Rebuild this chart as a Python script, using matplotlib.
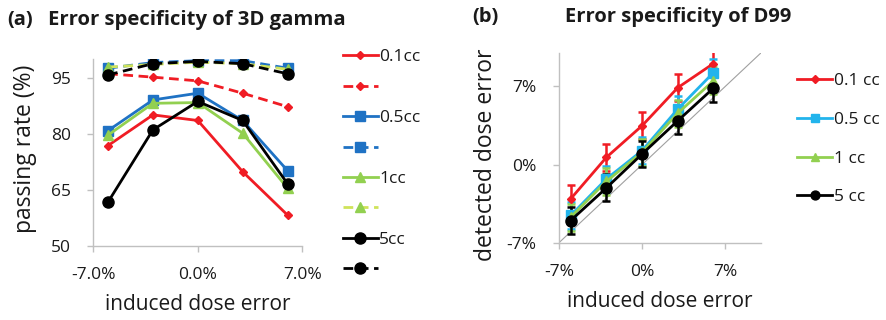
import matplotlib
matplotlib.use("Agg")
import matplotlib.pyplot as plt
from matplotlib.lines import Line2D

plt.rcParams['font.family'] = ['Open Sans', 'DejaVu Sans']

# ---- Panel (a) data ----
dose_err = [-6, -3, 0, 3, 6]
a_x_ticks = [-7, 0, 7]
a_x_ticklabels = ['-7.0%', '0.0%', '7.0%']
a_y_ticks = [50, 65, 80, 95]

a_01_solid = [76.9, 85.1, 83.6, 69.9, 58.3]
a_01_dash = [96.1, 95.2, 94.2, 90.9, 87.3]
a_05_solid = [80.9, 89.1, 90.9, 83.6, 70.2]
a_05_dash = [97.6, 99.1, 99.6, 99.6, 97.6]
a_1_solid = [79.7, 88.2, 88.4, 80.2, 65.5]
a_1_dash = [97.9, 98.6, 99.2, 98.8, 97.3]
a_5_solid = [61.8, 81.1, 88.7, 83.6, 66.7]
a_5_dash = [95.8, 98.8, 99.4, 98.8, 96.1]
a_labels = ['0.1cc', '0.5cc', '1cc', '5cc']

# ---- Panel (b) data ----
b_x_ticks = [-7, 0, 7]
b_ticklabels = ['-7%', '0%', '7%']
b_01 = [-3.06, 0.65, 3.48, 6.88, 9.04]
b_05 = [-4.55, -1.28, 1.25, 4.97, 8.23]
b_1 = [-4.7, -1.5, 1.1, 4.6, 7.5]
b_5 = [-5.0, -2.08, 0.95, 3.92, 6.84]
b_err = [1.2, 1.2, 1.2, 1.2, 1.2]
b_labels = ['0.1 cc', '0.5 cc', '1 cc', '5 cc']

RED = '#f01c24'
BLUE = '#1f72c4'
CYAN = '#22b4ec'
GREEN = '#92d050'
YGREEN = '#cfe35a'
BLACK = '#000000'
SPINE = '#c0c0c0'
TXT = '#1a1a1a'

fig = plt.figure(figsize=(8.87, 3.2), dpi=100)

def style_axes(ax):
    for s in ['top', 'right']:
        ax.spines[s].set_visible(False)
    for s in ['left', 'bottom']:
        ax.spines[s].set_color(SPINE)
        ax.spines[s].set_linewidth(1.0)
    ax.tick_params(axis='both', colors=SPINE, labelcolor=TXT,
                   labelsize=12.5, length=4, width=1)
    ax.tick_params(axis='x', pad=11)
    ax.tick_params(axis='y', pad=12)

# Panel (a)
axa = fig.add_axes([0.105, 0.231, 0.236, 0.584])
series_a = [
    (a_01_solid, a_01_dash, RED, RED, 'D', 4.5),
    (a_05_solid, a_05_dash, BLUE, BLUE, 's', 7),
    (a_1_solid, a_1_dash, GREEN, YGREEN, '^', 6.5),
    (a_5_solid, a_5_dash, BLACK, BLACK, 'o', 8),
]
handles = []
labels = []
for (sol, dsh, c1, c2, m, ms), lab in zip(series_a, a_labels):
    h1, = axa.plot(dose_err, sol, color=c1, marker=m, ms=ms, lw=2)
    h2, = axa.plot(dose_err, dsh, color=c2, marker=m, ms=ms, lw=2,
                   ls=(0, (3.5, 2)), markerfacecolor=c1, markeredgecolor=c1)
    handles += [h1, h2]
    labels += [lab, '']
axa.set_xlim(-7, 7)
axa.set_ylim(50, 100)
axa.set_xticks(a_x_ticks)
axa.set_xticklabels(a_x_ticklabels)
axa.set_yticks(a_y_ticks)
style_axes(axa)
axa.set_xlabel('induced dose error', fontsize=15, labelpad=8, color=TXT)
axa.set_ylabel('passing rate (%)', fontsize=16.5, color=TXT)
axa.yaxis.set_label_coords(-0.27, 0.52)
axa.legend(handles, labels, loc='upper left', bbox_to_anchor=(1.16, 1.09),
           frameon=False, fontsize=12.5, handlelength=2.0, handletextpad=0.1,
           labelspacing=0.82, borderaxespad=0, labelcolor=TXT)
fig.text(0.008, 0.937, '(a)', fontsize=14.5, fontweight='bold', va='center', color=TXT)
fig.text(0.054, 0.937, 'Error specificity of 3D gamma', fontsize=14.6,
         fontweight='bold', va='center', color=TXT)

# Panel (b)
axb = fig.add_axes([0.630, 0.241, 0.228, 0.594])
axb.plot([-7, 10], [-7, 10], color='#a0a0a0', lw=0.8, zorder=1)
series_b = [
    (b_01, RED, 'D', 4.5),
    (b_05, CYAN, 's', 7),
    (b_1, GREEN, '^', 6.5),
    (b_5, BLACK, 'o', 8),
]
hb = []
for (vals, c, m, ms), lab in zip(series_b, b_labels):
    axb.errorbar(dose_err, vals, yerr=b_err, color=c, marker=m, ms=ms,
                 lw=2, elinewidth=1.8, capsize=3, capthick=1.8,
                 label=lab, zorder=3)
    hb.append(Line2D([], [], color=c, marker=m, ms=ms * 0.8, lw=2))
axb.set_xlim(-7, 10)
axb.set_ylim(-7, 10)
axb.set_xticks(b_x_ticks)
axb.set_xticklabels(b_ticklabels)
axb.set_yticks(b_x_ticks)
axb.set_yticklabels(b_ticklabels)
style_axes(axb)
axb.set_xlabel('induced dose error', fontsize=15, labelpad=8, color=TXT)
axb.set_ylabel('detected dose error', fontsize=16.5, color=TXT)
axb.yaxis.set_label_coords(-0.30, 0.465)
axb.legend(hb, b_labels, loc='upper left', bbox_to_anchor=(1.145, 0.93),
           frameon=False, fontsize=12.5, handlelength=2.0, handletextpad=0.1,
           labelspacing=1.3, borderaxespad=0, labelcolor=TXT)
fig.text(0.532, 0.947, '(b)', fontsize=14.5, fontweight='bold', va='center', color=TXT)
fig.text(0.637, 0.947, 'Error specificity of D99', fontsize=14.5,
         fontweight='bold', va='center', color=TXT)

fig.savefig('out.png', dpi=100)
